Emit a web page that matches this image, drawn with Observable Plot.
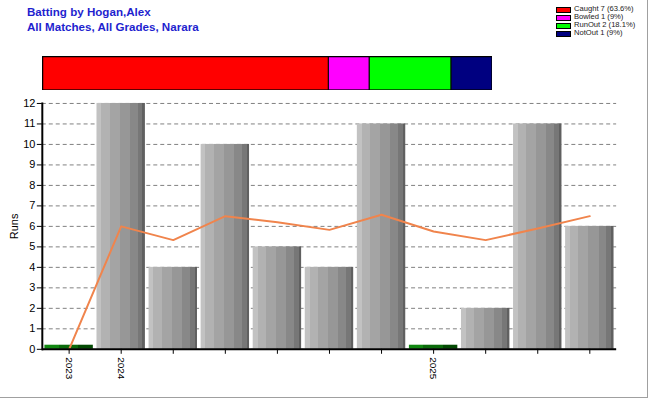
<!DOCTYPE html>
<html><head><meta charset="utf-8">
<script src="https://cdn.jsdelivr.net/npm/d3@7"></script>
<script src="https://cdn.jsdelivr.net/npm/@observablehq/plot@0.6"></script>
<style>
body{margin:0;background:#fff;font-family:Arial,"Liberation Sans",sans-serif}
#page{position:relative;width:647px;height:397px;border-right:1px solid #a0a0a0;border-bottom:1px solid #a0a0a0;overflow:hidden;background:#fff}
.title{position:absolute;left:27px;color:#1f1fcf;font-weight:bold;font-size:11.6px;white-space:nowrap}
#legend{position:absolute;left:556px;top:5px;font-size:7.6px;color:#222}
.lrow{position:relative;height:7.9px;line-height:8px;white-space:nowrap}
.sw{position:absolute;left:0;top:2px;width:13px;height:4px;border:1px solid #000}
.lt{position:absolute;left:18px;top:0}
#stack{position:absolute;left:42px;top:56px}
#main{position:absolute;left:0;top:95px}
</style></head>
<body><div id="page">
<div class="title" style="top:5px">Batting by Hogan,Alex</div>
<div class="title" style="top:20px">All Matches, All Grades, Narara</div>
<div id="legend"></div>
<div id="stack"></div>
<div id="main"></div>
</div>
<script>
const innings = [0,1,2,3,4,5,6,7,8,9,10];
const runs = [0,12,4,10,5,4,11,0,2,11,6];
const average = [0,6,5.33,6.5,6.2,5.83,6.57,5.75,5.33,5.9,6.5];
const yearLabels = ["2023","2024","","","","","","2025","","",""];
const dismissals = ["Caught","Bowled","RunOut","NotOut"];
const dismissalCounts = [7,1,2,1];
const dismissalPct = ["63.6%","9%","18.1%","9%"];
const dismissalColors = ["#ff0000","#ff00ff","#00ff00","#000080"];

// legend
const leg = document.getElementById("legend");
dismissals.forEach((d,i)=>{
  const r = document.createElement("div"); r.className="lrow";
  r.innerHTML = `<div class="sw" style="background:${dismissalColors[i]}"></div><div class="lt">${d} ${dismissalCounts[i]} (${dismissalPct[i]})</div>`;
  leg.appendChild(r);
});

// stacked dismissal bar
const stackData = dismissals.map((d,i)=>({type:d, count:dismissalCounts[i]}));
document.getElementById("stack").appendChild(Plot.plot({
  width: 450, height: 34, margin: 0,
  x: {domain:[0, d3.sum(dismissalCounts)], axis: null},
  y: {axis: null},
  color: {domain: dismissals, range: dismissalColors},
  marks: [
    Plot.barX(stackData, Plot.stackX({x:"count", fill:"type", stroke:"#000", strokeWidth:1, order: null})),
    Plot.frame({stroke:"#000", strokeWidth:1.5})
  ]
}));

function gradients(){
  const ns = "http://www.w3.org/2000/svg";
  const defs = document.createElementNS(ns,"defs");
  function grad(id, bands){
    const g = document.createElementNS(ns,"linearGradient");
    g.setAttribute("id",id); g.setAttribute("x1","0"); g.setAttribute("x2","1"); g.setAttribute("y1","0"); g.setAttribute("y2","0");
    bands.forEach(([a,b,c])=>{
      [a,b].forEach(o=>{const s=document.createElementNS(ns,"stop"); s.setAttribute("offset",o); s.setAttribute("stop-color",c); g.appendChild(s);});
    });
    defs.appendChild(g);
  }
  grad("barGrad",[[0,0.1,"#c2c2c2"],[0.1,0.27,"#b2b2b2"],[0.27,0.48,"#a4a4a4"],[0.48,0.69,"#979797"],[0.69,0.85,"#888888"],[0.85,0.95,"#777777"],[0.95,1,"#606060"]]);
  grad("duckGrad",[[0,0.3,"#118811"],[0.3,0.7,"#0a6a0a"],[0.7,1,"#034a03"]]);
  return defs;
}

const main = Plot.plot({
  width: 650, height: 300,
  marginTop: 8, marginBottom: 45, marginLeft: 42, marginRight: 31,
  style: {fontFamily: "Arial, 'Liberation Sans', sans-serif", color: "#000", background: "transparent"},
  x: {domain: innings, paddingInner: 0.07, paddingOuter: 0.05, round: false},
  y: {domain: [0, 12]},
  marks: [
    gradients,
    Plot.gridY({ticks: 12, stroke: "#808080", strokeOpacity: 1, strokeDasharray: "4,3"}),
    Plot.barY(innings.filter(i=>runs[i]>0), {x: d=>d, y: d=>runs[d], fill: "url(#barGrad)"}),
    Plot.barY(innings.filter(i=>runs[i]===0), {x: d=>d, y1: 0, y2: 0.2, fill: "url(#duckGrad)"}),
    Plot.line(innings, {x: d=>d, y: d=>average[d], stroke: "#f0844c", strokeWidth: 2}),
    Plot.axisY({ticks: 12, tickSize: 5, tickPadding: 2, fontSize: 11, label: "Runs", labelAnchor: "center", labelOffset: 32, labelArrow: "none"}),
    Plot.axisX({tickFormat: d=>yearLabels[d], tickRotate: 90, tickSize: 5, tickPadding: 3, fontSize: 10, label: null}),
    Plot.ruleY([0], {stroke: "#000", strokeWidth: 2}),
    Plot.frame({anchor: "left", stroke: "#000", strokeWidth: 2})
  ]
});
document.getElementById("main").appendChild(main);
</script>
</body></html>
